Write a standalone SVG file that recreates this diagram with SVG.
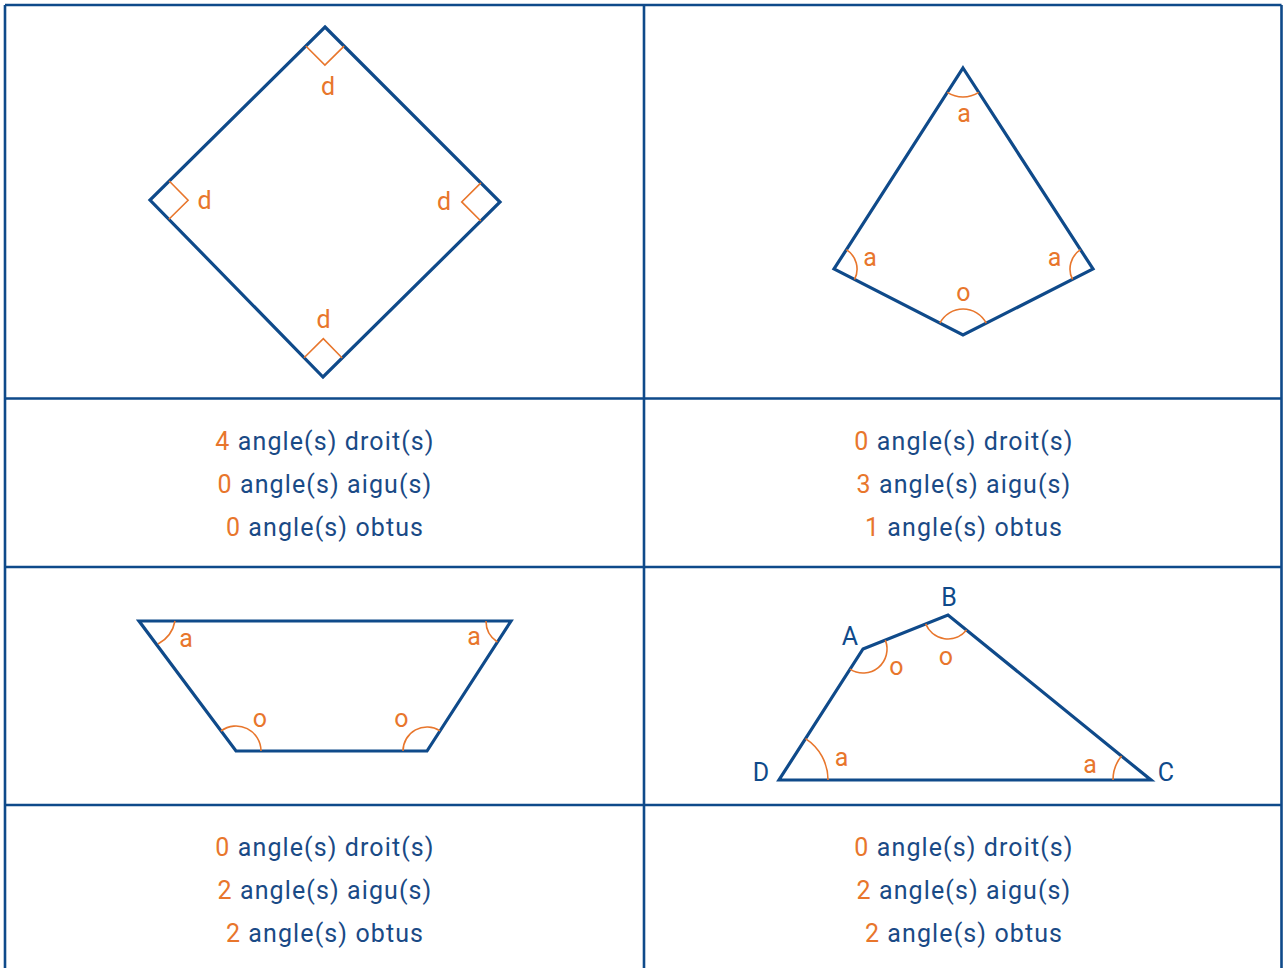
<svg xmlns="http://www.w3.org/2000/svg" width="1283" height="968" viewBox="0 0 1283 968">
<style>
.grid{stroke:#0f4a8a;stroke-width:2.6;fill:none}
.shape{stroke:#0f4a8a;stroke-width:3.2;fill:none;stroke-linejoin:miter}
.mark{stroke:#e8762c;stroke-width:1.6;fill:none}
.lbl{font-family:Roboto,"Liberation Sans",sans-serif;font-size:25px;fill:#e8762c;text-anchor:middle}
.vtx{font-family:Roboto,"Liberation Sans",sans-serif;font-size:25px;fill:#0f4a8a;text-anchor:middle}
.row{font-family:Roboto,"Liberation Sans",sans-serif;font-size:25px;fill:#1a4a86;text-anchor:middle;letter-spacing:1.1px}
.num{fill:#e8762c}
</style>
<rect width="1283" height="968" fill="#ffffff"/>
<g id="grid">
<path class="grid" d="M5,5 H1281.5 M5,5 V968 M1281.5,5 V968 M644,5 V968 M5,398.5 H1281.5 M5,567 H1281.5 M5,805 H1281.5"/>
</g>
<g id="square">
<polygon class="shape" points="325,27 500,202 323,377 150,200"/>
<path class="mark" d="M305.8,46 L324.9,65.1 L344.1,46.1"/>
<path class="mark" d="M169.2,181 L188.1,200.3 L168.9,219.3"/>
<path class="mark" d="M480.9,182.9 L461.7,201.9 L480.8,221"/>
<path class="mark" d="M304.1,357.7 L323.3,338.7 L342.2,358"/>
<text class="lbl" x="328" y="95">d</text>
<text class="lbl" x="204.5" y="209">d</text>
<text class="lbl" x="444" y="210">d</text>
<text class="lbl" x="323.5" y="328">d</text>
</g>
<g id="kite">
<polygon class="shape" points="963,68 1093,269 963,335 834,269"/>
<path class="mark" d="M947.3,92.4 A29,29 0 0 0 978.7,92.4"/>
<path class="mark" d="M846.4,249.6 A23,23 0 0 1 854.5,279.5"/>
<path class="mark" d="M1080.5,249.7 A23,23 0 0 0 1072.5,279.4"/>
<path class="mark" d="M939.9,323.2 A26,26 0 0 1 986.2,323.2"/>
<text class="lbl" x="964" y="122">a</text>
<text class="lbl" x="870" y="266">a</text>
<text class="lbl" x="1054.5" y="266">a</text>
<text class="lbl" x="963.5" y="301">o</text>
</g>
<g id="trapezoid">
<polygon class="shape" points="139,621 511,621 427,751 236,751"/>
<path class="mark" d="M175,621 A33,33 0 0 1 158,644"/>
<path class="mark" d="M486,621 A25,25 0 0 0 497.4,642"/>
<path class="mark" d="M221,731 A25,25 0 0 1 261,751"/>
<path class="mark" d="M403,751 A24,24 0 0 1 440,730.8"/>
<text class="lbl" x="186" y="647">a</text>
<text class="lbl" x="474" y="645">a</text>
<text class="lbl" x="260" y="727">o</text>
<text class="lbl" x="401.5" y="727">o</text>
</g>
<g id="quadrilateral">
<polygon class="shape" points="863,649 948,615 1151,780 779,780"/>
<path class="mark" d="M885.3,640.1 A24,24 0 0 1 850,669.2"/>
<path class="mark" d="M925.7,623.9 A24,24 0 0 0 966.6,630.1"/>
<path class="mark" d="M1121.5,756 A38,38 0 0 0 1113,780"/>
<path class="mark" d="M805.5,738.7 A49,49 0 0 1 828,780"/>
<text class="vtx" x="850" y="645">A</text>
<text class="vtx" x="949" y="605.5">B</text>
<text class="vtx" x="1166" y="781">C</text>
<text class="vtx" x="761" y="781">D</text>
<text class="lbl" x="896.5" y="675">o</text>
<text class="lbl" x="946" y="665">o</text>
<text class="lbl" x="841.5" y="766">a</text>
<text class="lbl" x="1090" y="773">a</text>
</g>
<g id="count-square">
<text class="row" x="325" y="450"><tspan class="num">4</tspan> angle(s) droit(s)</text>
<text class="row" x="325" y="493"><tspan class="num">0</tspan> angle(s) aigu(s)</text>
<text class="row" x="325" y="536"><tspan class="num">0</tspan> angle(s) obtus</text>
</g>
<g id="count-kite">
<text class="row" x="964" y="450"><tspan class="num">0</tspan> angle(s) droit(s)</text>
<text class="row" x="964" y="493"><tspan class="num">3</tspan> angle(s) aigu(s)</text>
<text class="row" x="964" y="536"><tspan class="num">1</tspan> angle(s) obtus</text>
</g>
<g id="count-trapezoid">
<text class="row" x="325" y="856"><tspan class="num">0</tspan> angle(s) droit(s)</text>
<text class="row" x="325" y="899"><tspan class="num">2</tspan> angle(s) aigu(s)</text>
<text class="row" x="325" y="942"><tspan class="num">2</tspan> angle(s) obtus</text>
</g>
<g id="count-quadrilateral">
<text class="row" x="964" y="856"><tspan class="num">0</tspan> angle(s) droit(s)</text>
<text class="row" x="964" y="899"><tspan class="num">2</tspan> angle(s) aigu(s)</text>
<text class="row" x="964" y="942"><tspan class="num">2</tspan> angle(s) obtus</text>
</g>
</svg>
